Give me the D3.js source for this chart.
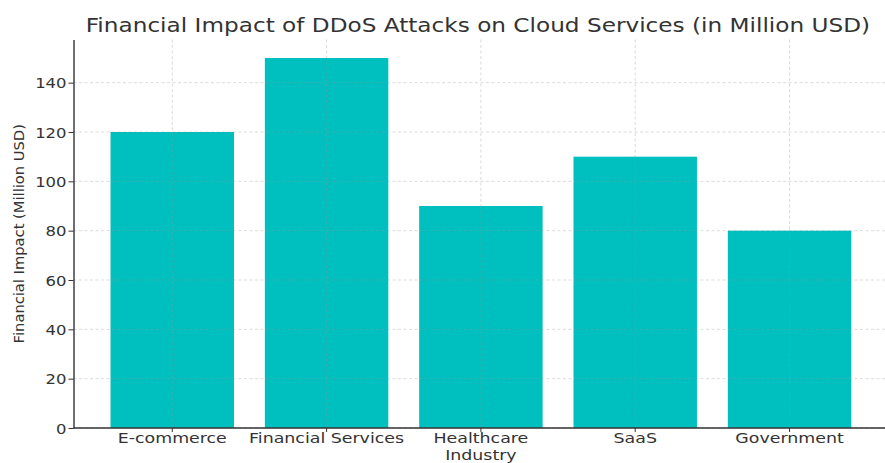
<!DOCTYPE html>
<html>
<head>
<meta charset="utf-8">
<script src="https://cdn.jsdelivr.net/npm/d3@7"></script>
<style>
  html, body { margin: 0; padding: 0; background: #fff; }
  svg { display: block; }
  text { font-family: "DejaVu Sans", sans-serif; fill: #333; }
</style>
</head>
<body>
<svg id="chart" width="885" height="463"></svg>
<script>
const categories = ["E-commerce", "Financial Services", "Healthcare Industry", "SaaS", "Government"];
const categoryLines = [["E-commerce"], ["Financial Services"], ["Healthcare", "Industry"], ["SaaS"], ["Government"]];
const values = [120, 150, 90, 110, 80];
const yTicks = [0, 20, 40, 60, 80, 100, 120, 140];
const chartTitle = "Financial Impact of DDoS Attacks on Cloud Services (in Million USD)";
const yLabel = "Financial Impact (Million USD)";

const SX = 1.15; // horizontal stretch of text in the reference
const SXL = 1.2;
const SXT = 1.22;
const plotLeft = 73.5, plotRight = 888.3, plotTop = 39.5, plotBottom = 428;

const svg = d3.select("#chart");

const x = d3.scaleBand().domain(categories).range([plotLeft, plotRight])
  .paddingInner(0.2).paddingOuter(0.24);
const y = d3.scaleLinear().domain([0, 157.5]).range([plotBottom, plotTop]);

// bars
svg.append("g").selectAll("rect").data(values).join("rect")
  .attr("x", (d, i) => x(categories[i]))
  .attr("width", x.bandwidth())
  .attr("y", d => y(d))
  .attr("height", d => y(0) - y(d))
  .attr("fill", "#00bfbf");

// grid (on top of bars)
const grid = svg.append("g").attr("stroke", "#9a9a9a").attr("stroke-opacity", 0.45)
  .attr("stroke-width", 0.8).attr("stroke-dasharray", "3,2.5");
grid.selectAll("line.h").data(yTicks).join("line").attr("class", "h")
  .attr("x1", plotLeft).attr("x2", plotRight)
  .attr("y1", d => y(d)).attr("y2", d => y(d));
grid.selectAll("line.v").data(categories).join("line").attr("class", "v")
  .attr("x1", d => x(d) + x.bandwidth() / 2).attr("x2", d => x(d) + x.bandwidth() / 2)
  .attr("y1", plotTop).attr("y2", plotBottom);

// y axis
const yAxis = svg.append("g").attr("transform", `translate(${plotLeft},0)`)
  .call(d3.axisLeft(y).tickValues(yTicks).tickSize(5).tickPadding(2).tickSizeOuter(0));
yAxis.select(".domain").attr("stroke", "#333").attr("stroke-width", 1.4);
yAxis.selectAll(".tick line").attr("stroke", "#333").attr("stroke-width", 1);
yAxis.selectAll(".tick text").attr("font-size", 14.3).attr("fill", "#333")
  .attr("font-family", "DejaVu Sans")
  .attr("transform", `scale(${SX},1)`)
  .attr("x", -7 / SX).attr("dy", "0.36em");

// x axis
const xAxis = svg.append("g").attr("transform", `translate(0,${plotBottom})`)
  .call(d3.axisBottom(x).tickSize(4).tickSizeOuter(0));
xAxis.select(".domain").attr("stroke", "#333").attr("stroke-width", 1.4)
  .attr("d", `M${plotLeft},0H${plotRight}`);
xAxis.selectAll(".tick line").attr("stroke", "#333").attr("stroke-width", 1);
xAxis.selectAll(".tick text").each(function (d, i) {
  const t = d3.select(this);
  t.text(null).attr("y", 0).attr("dy", null)
    .attr("font-size", 14.5).attr("fill", "#333").attr("font-family", "DejaVu Sans")
    .attr("transform", `scale(${SXL},1)`);
  categoryLines[i].forEach((line, j) => {
    t.append("tspan").attr("x", 0).attr("y", 15 + j * 17).text(line);
  });
});

// title
svg.append("text")
  .attr("transform", `translate(${(plotLeft + plotRight) / 2 - 3},32) scale(${SXT},1)`)
  .attr("text-anchor", "middle").attr("font-size", 19).attr("fill", "#333")
  .text(chartTitle);

// y label
svg.append("text")
  .attr("transform", `translate(24,${(plotTop + plotBottom) / 2}) rotate(-90)`)
  .attr("text-anchor", "middle").attr("font-size", 14.7).attr("fill", "#222")
  .text(yLabel);
</script>
</body>
</html>
